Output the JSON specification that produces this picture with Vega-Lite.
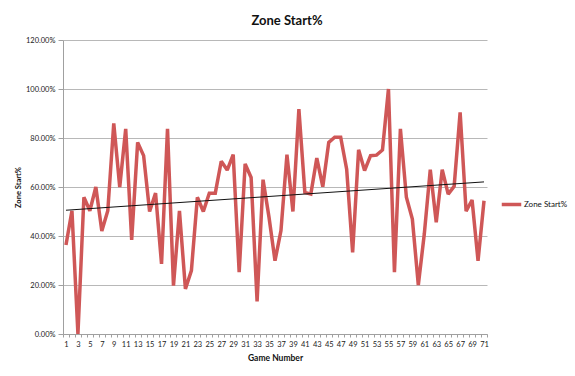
{
  "$schema": "https://vega.github.io/schema/vega-lite/v6.json",
  "width": 424,
  "height": 294,
  "autosize": {"type": "none"},
  "padding": {"left": 63, "top": 40, "right": 88, "bottom": 42},
  "background": "white",
  "title": {"text": "Zone Start%", "fontSize": 13, "font": "Lato", "fontWeight": "bold", "color": "#111111", "anchor": "middle", "dx": 12, "offset": 8},
  "config": {"view": {"stroke": null}, "font": "Lato"},
  "data": {"values": [
    {"game": 1, "value": 0.363}, {"game": 2, "value": 0.503}, {"game": 3, "value": 0.0}, {"game": 4, "value": 0.558},
    {"game": 5, "value": 0.503}, {"game": 6, "value": 0.6}, {"game": 7, "value": 0.42}, {"game": 8, "value": 0.503},
    {"game": 9, "value": 0.86}, {"game": 10, "value": 0.6}, {"game": 11, "value": 0.837}, {"game": 12, "value": 0.384},
    {"game": 13, "value": 0.782}, {"game": 14, "value": 0.728}, {"game": 15, "value": 0.5}, {"game": 16, "value": 0.575},
    {"game": 17, "value": 0.286}, {"game": 18, "value": 0.837}, {"game": 19, "value": 0.197}, {"game": 20, "value": 0.503},
    {"game": 21, "value": 0.184}, {"game": 22, "value": 0.259}, {"game": 23, "value": 0.558}, {"game": 24, "value": 0.5},
    {"game": 25, "value": 0.575}, {"game": 26, "value": 0.575}, {"game": 27, "value": 0.705}, {"game": 28, "value": 0.669},
    {"game": 29, "value": 0.732}, {"game": 30, "value": 0.252}, {"game": 31, "value": 0.694}, {"game": 32, "value": 0.639},
    {"game": 33, "value": 0.133}, {"game": 34, "value": 0.63}, {"game": 35, "value": 0.476}, {"game": 36, "value": 0.299},
    {"game": 37, "value": 0.422}, {"game": 38, "value": 0.732}, {"game": 39, "value": 0.5}, {"game": 40, "value": 0.918},
    {"game": 41, "value": 0.578}, {"game": 42, "value": 0.571}, {"game": 43, "value": 0.718}, {"game": 44, "value": 0.601},
    {"game": 45, "value": 0.782}, {"game": 46, "value": 0.803}, {"game": 47, "value": 0.803}, {"game": 48, "value": 0.673},
    {"game": 49, "value": 0.333}, {"game": 50, "value": 0.752}, {"game": 51, "value": 0.667}, {"game": 52, "value": 0.728},
    {"game": 53, "value": 0.73}, {"game": 54, "value": 0.751}, {"game": 55, "value": 1.0}, {"game": 56, "value": 0.252},
    {"game": 57, "value": 0.837}, {"game": 58, "value": 0.558}, {"game": 59, "value": 0.469}, {"game": 60, "value": 0.2},
    {"game": 61, "value": 0.408}, {"game": 62, "value": 0.671}, {"game": 63, "value": 0.456}, {"game": 64, "value": 0.671},
    {"game": 65, "value": 0.571}, {"game": 66, "value": 0.603}, {"game": 67, "value": 0.905}, {"game": 68, "value": 0.501},
    {"game": 69, "value": 0.547}, {"game": 70, "value": 0.299}, {"game": 71, "value": 0.544}
  ]},
  "encoding": {
    "x": {
      "field": "game", "type": "quantitative",
      "scale": {"domain": [0.5, 71.5], "nice": false, "zero": false},
      "axis": {
        "title": "Game Number", "titleFontSize": 8.5, "titleFontWeight": "bold", "titleColor": "#111111", "titlePadding": 6,
        "values": [0.5, 1, 1.5, 2.5, 3, 3.5, 4.5, 5, 5.5, 6.5, 7, 7.5, 8.5, 9, 9.5, 10.5, 11, 11.5, 12.5, 13, 13.5, 14.5, 15, 15.5, 16.5, 17, 17.5, 18.5, 19, 19.5, 20.5, 21, 21.5, 22.5, 23, 23.5, 24.5, 25, 25.5, 26.5, 27, 27.5, 28.5, 29, 29.5, 30.5, 31, 31.5, 32.5, 33, 33.5, 34.5, 35, 35.5, 36.5, 37, 37.5, 38.5, 39, 39.5, 40.5, 41, 41.5, 42.5, 43, 43.5, 44.5, 45, 45.5, 46.5, 47, 47.5, 48.5, 49, 49.5, 50.5, 51, 51.5, 52.5, 53, 53.5, 54.5, 55, 55.5, 56.5, 57, 57.5, 58.5, 59, 59.5, 60.5, 61, 61.5, 62.5, 63, 63.5, 64.5, 65, 65.5, 66.5, 67, 67.5, 68.5, 69, 69.5, 70.5, 71, 71.5],
        "labelExpr": "datum.value % 1 === 0 ? format(datum.value, 'd') : ''",
        "labelOverlap": false, "labelFontSize": 7.5, "labelColor": "#222222", "labelPadding": 3,
        "grid": false, "domainColor": "#a0a0a0", "tickColor": "#a0a0a0", "tickSize": 3,
        "tickOpacity": {"condition": {"test": "datum.value % 1 === 0", "value": 0}, "value": 1}
      }
    },
    "y": {
      "field": "value", "type": "quantitative",
      "scale": {"domain": [0, 1.2], "nice": false},
      "axis": {
        "title": "Zone Start%", "titleFontSize": 7.5, "titleFontWeight": "bold", "titleColor": "#111111", "titlePadding": 3,
        "values": [0, 0.2, 0.4, 0.6, 0.8, 1.0, 1.2], "format": ".2%",
        "labelFontSize": 7.5, "labelColor": "#222222", "labelPadding": 3,
        "grid": true, "gridColor": "#b8b8b8", "gridWidth": 1,
        "domainColor": "#a0a0a0", "tickColor": "#a0a0a0", "tickSize": 5
      }
    }
  },
  "layer": [
    {
      "mark": {"type": "line", "strokeWidth": 3.5, "strokeJoin": "miter", "strokeMiterLimit": 2},
      "encoding": {
        "color": {
          "datum": "Zone Start%", "type": "nominal",
          "scale": {"range": ["#cf5757"]},
          "legend": {"title": null, "orient": "none", "legendX": 437, "legendY": 153, "symbolType": "stroke", "symbolStrokeWidth": 3.5, "symbolSize": 380, "labelOffset": 1, "labelFontSize": 8, "labelColor": "#111111"}
        }
      }
    },
    {
      "transform": [{"regression": "value", "on": "game", "method": "linear", "extent": [1, 71]}],
      "mark": {"type": "line", "strokeWidth": 1, "color": "#111111"},
      "encoding": {}
    }
  ]
}
